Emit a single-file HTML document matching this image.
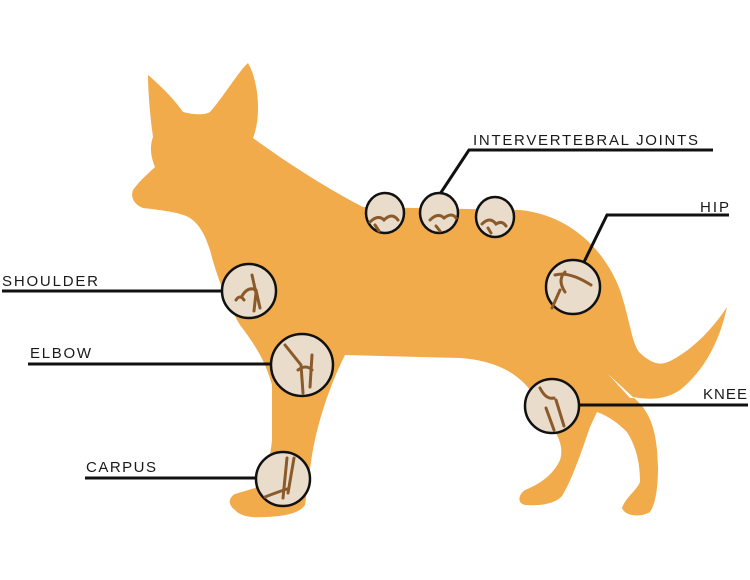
<!DOCTYPE html>
<html><head><meta charset="utf-8"><style>
html,body{margin:0;padding:0;background:#fff;}
svg{display:block;}
text{font-family:"Liberation Sans",sans-serif;font-size:15px;fill:#1a1a1a;}
</style></head><body>
<svg width="750" height="580" viewBox="0 0 750 580" xmlns="http://www.w3.org/2000/svg">
<path fill="#F1AB4B" d="M148,75 C160,85 175,100 183,112 C195,115 205,115 210,112 C225,95 238,72 248,63 C258,80 262,115 253,138 C290,165 330,190 363,207 L520,210 C570,215 605,250 620,290 C630,320 632,345 640,353 C650,362 658,366 668,362 C690,352 712,330 727,307 C720,340 705,370 680,390 C665,400 650,400 633,397 C648,410 657,425 658,467 C658,490 655,505 650,512 C640,518 625,516 622,508 C625,498 637,490 640,482 C640,460 635,445 627,432 C615,420 605,415 597,412 L590,427 C582,450 572,480 562,496 C555,504 540,506 525,505 C517,503 518,495 525,490 C540,484 553,475 560,460 C565,445 555,430 548,422 L530,390 C515,370 490,360 460,358 L345,355 C330,385 318,420 312,455 L305,505 C300,512 290,516 265,517 C250,518 240,516 235,510 C228,505 228,498 235,494 L255,488 C265,480 270,460 272,440 L272,385 C265,360 255,345 240,325 C225,300 215,270 210,250 C205,235 200,225 190,218 C180,212 160,210 143,208 C135,205 130,198 133,190 C140,180 150,172 155,167 C150,155 150,145 153,137 C150,115 148,90 148,75 Z"/>
<path d="M608,374 L634,398 L630,398 Z" fill="#fff"/>
<g stroke="#111" stroke-width="3" fill="none">
<polyline points="2,291 222,291"/>
<polyline points="28,364 271,364"/>
<polyline points="85,478 256,478"/>
<polyline points="440,194 469,150 713,150"/>
<polyline points="584,262 607,215 729,215"/>
<polyline points="579,405 748,405"/>
</g>
<g fill="#EADCCA" stroke="#111" stroke-width="2.5">
<ellipse cx="385" cy="213" rx="19" ry="20"/>
<ellipse cx="439" cy="213" rx="19" ry="20"/>
<ellipse cx="495" cy="217" rx="19" ry="20"/>
<circle cx="249" cy="291" r="27"/>
<circle cx="302" cy="365" r="31"/>
<circle cx="283" cy="479" r="27"/>
<circle cx="573" cy="287" r="27"/>
<circle cx="552" cy="406" r="27"/>
</g>
<g stroke="#8a5a2b" stroke-width="3" fill="none" stroke-linecap="round">
<path d="M370,222 q8,-8 14,-2 q8,-8 14,0 M375,225 l4,6 M430,220 q8,-8 14,-2 q8,-6 12,0 M436,226 l4,5 M482,224 q8,-8 14,0 q6,-4 10,2 M488,228 l3,5"/>
<path d="M242,296 q6,-10 14,-6 l4,18 M252,275 l4,18 l-2,18 M236,300 q4,-6 8,0"/>
<path d="M285,345 l16,20 l2,28 M312,355 l-2,32 M298,370 q8,-6 14,0"/>
<path d="M287,458 l-4,40 M294,458 l-6,35 M265,497 q10,-4 22,-8"/>
<path d="M555,275 q14,-4 36,10 M560,290 l-8,18 M565,272 q-8,8 0,20"/>
<path d="M540,388 q6,12 14,10 M546,408 l8,22 M556,400 l8,26"/>
</g>
<text x="2" y="286" textLength="96">SHOULDER</text>
<text x="30" y="358" textLength="61">ELBOW</text>
<text x="86" y="472" textLength="70">CARPUS</text>
<text x="473" y="145" textLength="225">INTERVERTEBRAL JOINTS</text>
<text x="700" y="212" textLength="29">HIP</text>
<text x="703" y="399" textLength="44">KNEE</text>
</svg>
</body></html>
